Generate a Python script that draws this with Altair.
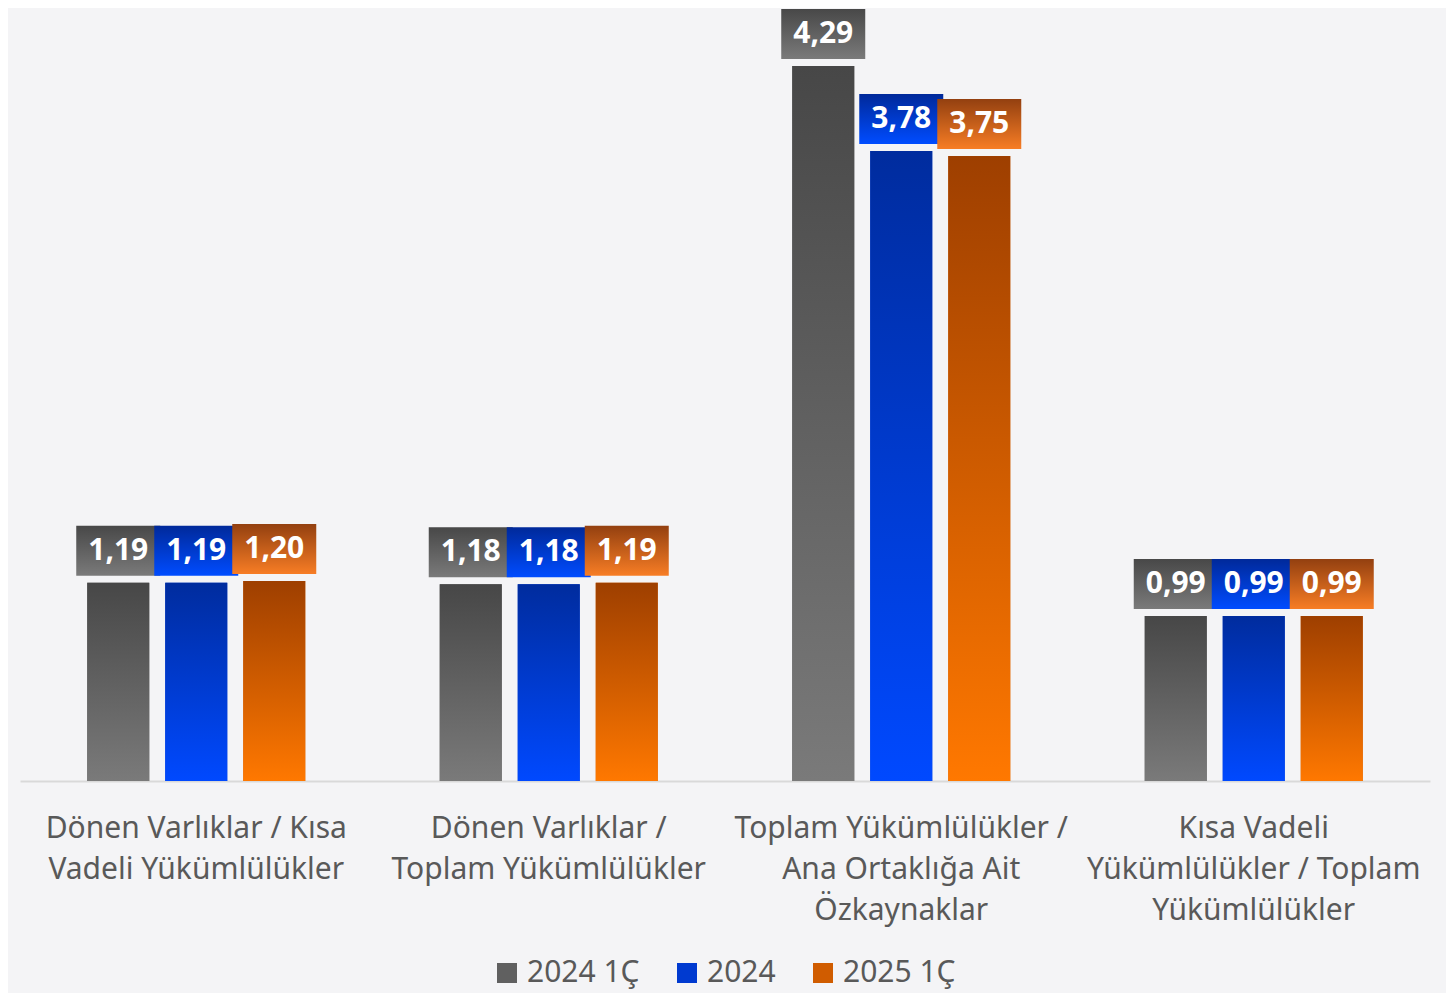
import altair as alt
import pandas as pd

FONT = "Noto Sans"

categories = [
    "Dönen Varlıklar / Kısa\nVadeli Yükümlülükler",
    "Dönen Varlıklar /\nToplam Yükümlülükler",
    "Toplam Yükümlülükler /\nAna Ortaklığa Ait\nÖzkaynaklar",
    "Kısa Vadeli\nYükümlülükler / Toplam\nYükümlülükler",
]
series = ["2024 1Ç", "2024", "2025 1Ç"]
v_2024_1c = [1.19, 1.18, 4.29, 0.99]
v_2024 = [1.19, 1.18, 3.78, 0.99]
v_2025_1c = [1.20, 1.19, 3.75, 0.99]

bar_top = ["#474747", "#002c9e", "#9e3f00"]
bar_bottom = ["#7a7a7a", "#0049ff", "#ff7800"]
box_top = ["#484848", "#00299a", "#934010"]
box_bottom = ["#7a7a7a", "#004cff", "#f77d25"]
flat = ["#606060", "#003ad0", "#d05c00"]

rows = []
for s, vals in zip(series, [v_2024_1c, v_2024, v_2025_1c]):
    for c, v in zip(categories, vals):
        rows.append({"category": c, "series": s, "value": v})
df = pd.DataFrame(rows)

YMAX = 4.638


def grad(top, bottom):
    return alt.Gradient(
        gradient="linear",
        x1=0, y1=0, x2=0, y2=1,
        stops=[alt.GradientStop(color=top, offset=0),
               alt.GradientStop(color=bottom, offset=1)],
    )


x_enc = alt.X(
    "category:N", sort=categories,
    scale=alt.Scale(paddingInner=0, paddingOuter=0),
    axis=alt.Axis(title=None, labelAngle=0, labelExpr="split(datum.label, '\\n')",
                  labelPadding=32, labelLimit=500, labelLineHeight=41,
                  labelFontSize=30, labelColor="#595959", labelFont=FONT,
                  ticks=False, domainColor="#d9d9d9", domainWidth=2, grid=False),
)
xo_enc = alt.XOffset("series:N", sort=series,
                     scale=alt.Scale(domain=series, paddingInner=0.2051, paddingOuter=0.862))
y_enc = alt.Y("value:Q", scale=alt.Scale(domain=[0, YMAX], nice=False, zero=True), axis=None)
y2_enc = alt.Y2("value")

base = alt.Chart(df)

legend_layer = base.mark_bar().encode(
    x=x_enc, xOffset=xo_enc, y=y_enc,
    color=alt.Color(
        "series:N", sort=series,
        scale=alt.Scale(domain=series, range=flat),
        legend=alt.Legend(title=None, orient="none", legendX=472, legendY=950,
                          direction="horizontal", symbolType="square", symbolSize=400,
                          symbolStrokeWidth=0, labelFontSize=30, labelColor="#595959",
                          labelFont=FONT, columnPadding=32, labelOffset=5),
    ),
)

layers = [legend_layer]
for i, s in enumerate(series):
    sub = base.transform_filter(alt.datum.series == s)
    bars = sub.mark_bar(color=grad(bar_top[i], bar_bottom[i])).encode(
        x=x_enc, xOffset=xo_enc, y=y_enc)
    boxes = sub.mark_bar(color=grad(box_top[i], box_bottom[i]), width=84,
                         yOffset=-57, y2Offset=-7).encode(
        x=x_enc, xOffset=xo_enc, y=y_enc, y2=y2_enc)
    texts = sub.transform_calculate(
        label="replace(format(datum.value, '.2f'), '.', ',')"
    ).mark_text(color="white", fontWeight="bold", fontSize=30, font=FONT,
                baseline="middle", align="center", dy=-32).encode(
        x=x_enc, xOffset=xo_enc, y=y_enc, text="label:N")
    layers += [bars, boxes, texts]

chart = alt.layer(*layers).properties(
    width=1410, height=773,
    padding={"left": 12, "top": 0, "right": 16, "bottom": 212},
    autosize=alt.AutoSizeParams(type="none"),
    background="#f4f4f6",
).configure_view(stroke=None)

chart.save("out.html", embed_options={"renderer": "svg", "actions": False})
